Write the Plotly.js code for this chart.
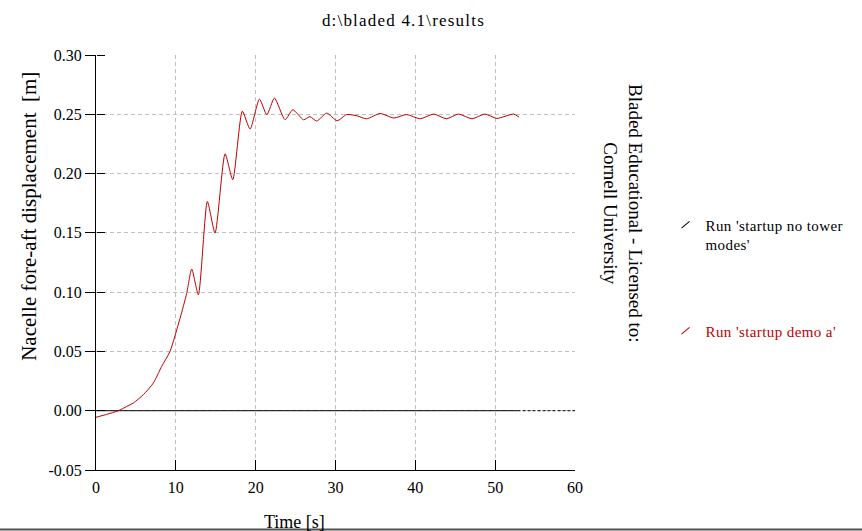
<!DOCTYPE html>
<html>
<head>
<meta charset="utf-8">
<script src="https://cdn.plot.ly/plotly-3.0.1.min.js"></script>
<style>
html,body{margin:0;padding:0;background:#fff;}
#chart{width:862px;height:531px;}
.gtitle{letter-spacing:1.2px;}
.legendtext{letter-spacing:0.4px;}
.legendlines path{transform-box:fill-box;transform-origin:center;transform:rotate(-40deg) scaleX(0.35);}
</style>
</head>
<body>
<div id="chart"></div>
<script>
// ---- data ----
const chartTitle = "d:\\bladed 4.1\\results";
const xTitle = "Time [s]";
const yTitle = "Nacelle fore-aft displacement  [m]";
const watermark = "Bladed Educational - Licensed to:<br>Cornell University";

const nameNoTower = "Run 'startup no tower<br>modes'";
const nameDemoA = "Run 'startup demo a'";

// Run 'startup no tower modes' (zero displacement)
const timeNoTower = [0, 52.8];
const dispNoTower = [0, 0];
// continuation drawn dotted to the axis end
const timeNoTowerExt = [52.8, 60];
const dispNoTowerExt = [0, 0];

// Run 'startup demo a'
const timeDemoA = [0, 1.34, 2.8, 3.85, 4.68, 5.93, 7.18, 8.23, 9.27, 10.53, 11.36, 11.99, 12.82,
  13.95, 14.91, 16.17, 17.13, 18.33, 19.3, 20.47, 21.4, 22.35, 23.68, 24.65, 26.0, 26.8, 27.65,
  28.9, 30.2, 31.4, 32.7, 33.9, 35.6, 37.3, 38.9, 40.6, 42.3, 43.9, 45.4, 47.1, 48.7, 50.2, 52.3, 53.0];
const dispDemoA = [-0.0055, -0.0031, 0.0000, 0.0036, 0.0065, 0.0135, 0.0233, 0.0374, 0.0500, 0.0780, 0.0990, 0.1195, 0.0978,
  0.1765, 0.1498, 0.2167, 0.1948, 0.2526, 0.2375, 0.2628, 0.2496, 0.2637, 0.2454, 0.2538, 0.2454, 0.2480, 0.2443,
  0.2510, 0.2445, 0.2498, 0.2487, 0.2462, 0.2507, 0.2468, 0.2498, 0.2462, 0.2502, 0.2462, 0.2502, 0.2462, 0.2502, 0.2465, 0.2502, 0.2476];

const yTickVals = [-0.05, 0, 0.05, 0.10, 0.15, 0.20, 0.25, 0.30];
const yTickText = ["-0.05", "0.00", "0.05", "0.10", "0.15", "0.20", "0.25", "0.30"];
const xTickVals = [0, 10, 20, 30, 40, 50, 60];

const xRange = [0, 60];
const yRange = [-0.05, 0.30];

// ---- chart ----
const FONT = "Liberation Serif, Times New Roman, serif";
const RED = "#c00000";
const GRID = "#c0c0c0";

const traces = [
  {x: timeNoTower, y: dispNoTower, type: "scatter", mode: "lines", name: nameNoTower,
   line: {color: "#000", width: 1}, legendgroup: "a"},
  {x: timeNoTowerExt, y: dispNoTowerExt, type: "scatter", mode: "lines", showlegend: false,
   yaxis: "y2", line: {color: "#000", width: 1, dash: "3px,2px"}, legendgroup: "a"},
  {x: timeDemoA, y: dispDemoA, type: "scatter", mode: "lines", line: {color: RED, width: 1, shape: "spline", smoothing: 0.6},
   name: '<span style="color:' + RED + '">' + nameDemoA + '</span>', legendgroup: "b"}
];

const layout = {
  width: 862, height: 531,
  margin: {l: 96, r: 287, t: 55, b: 61},
  paper_bgcolor: "#fff", plot_bgcolor: "#fff",
  font: {family: FONT, color: "#000", size: 15},
  title: {text: chartTitle, font: {family: FONT, size: 17, color: "#000"},
          xref: "container", x: 0.468, xanchor: "center", yref: "container", y: 0.962, yanchor: "middle"},
  xaxis: {range: xRange, tickmode: "array", tickvals: xTickVals, ticks: "inside", ticklen: 10, tickcolor: "#000",
          showline: true, linecolor: "#000", linewidth: 1, zeroline: false, ticklabelstandoff: 3,
          showgrid: true, gridcolor: GRID, griddash: "4px,3px", gridwidth: 1,
          tickfont: {family: FONT, size: 16, color: "#000"}, fixedrange: true},
  yaxis: {range: yRange, tickmode: "array", tickvals: yTickVals, ticktext: yTickText,
          ticks: "outside", ticklen: 10, tickcolor: "#000",
          showline: true, linecolor: "#000", linewidth: 1, zeroline: false,
          showgrid: true, gridcolor: GRID, griddash: "4px,3px", gridwidth: 1,
          tickfont: {family: FONT, size: 16, color: "#000"}, fixedrange: true},
  yaxis2: {range: yRange, tickmode: "array", tickvals: yTickVals, overlaying: "y", side: "right",
           anchor: "free", position: 0,
           ticks: "outside", ticklen: 8, tickcolor: "#000", showticklabels: false,
           showgrid: false, zeroline: false, showline: false, fixedrange: true},
  showlegend: true,
  legend: {x: 1.189, xanchor: "left", y: 0.63, yanchor: "top", valign: "top",
           font: {family: FONT, size: 15, color: "#000"}, tracegroupgap: 64, itemwidth: 30,
           bgcolor: "rgba(0,0,0,0)", borderwidth: 0},
  annotations: [
    {text: yTitle, xref: "paper", yref: "paper", x: -0.139, y: 0.611, showarrow: false,
     textangle: -90, xanchor: "center", yanchor: "middle", font: {family: FONT, size: 21, color: "#000"}},
    {text: xTitle, xref: "paper", yref: "paper", x: 0.415, y: -0.125, showarrow: false,
     xanchor: "center", yanchor: "middle", font: {family: FONT, size: 18, color: "#000"}},
    {text: watermark, xref: "paper", yref: "paper", x: 1.1, y: 0.617, showarrow: false,
     textangle: 90, xanchor: "center", yanchor: "middle", align: "center",
     font: {family: FONT, size: 19, color: "#000"}}
  ],
  shapes: [
    {type: "line", xref: "paper", yref: "paper", x0: -0.25, x1: 1.65, y0: -0.1434, y1: -0.1434,
     line: {color: "#505050", width: 2}}
  ]
};

Plotly.newPlot("chart", traces, layout, {displayModeBar: false, staticPlot: true});
</script>
</body>
</html>
